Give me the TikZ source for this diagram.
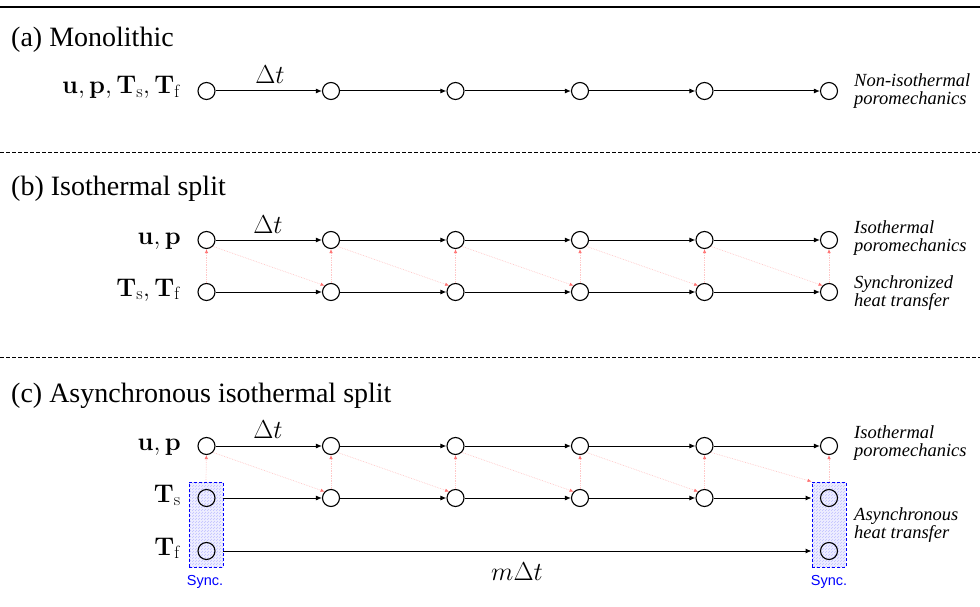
\RequirePackage{fix-cm}
\documentclass[tikz,border=0pt]{standalone}
\usepackage[no-math]{fontspec}
\setmainfont{Liberation Serif}
\newfontfamily\syncfont{Liberation Sans}
\usetikzlibrary{arrows.meta,patterns}

\begin{document}
\begin{tikzpicture}[x=1pt,y=-1pt,
  st/.style={circle,draw,line width=1.1pt,minimum size=17pt,inner sep=0pt},
  flow/.style={-{Latex[length=6pt,width=5pt]},line width=1pt},
  cpl/.style={-{Latex[length=4pt,width=3.5pt,color=red!55]},draw=red!22,densely dotted,line width=0.7pt},
  ttl/.style={anchor=base west,font=\fontsize{28}{32}\selectfont,inner sep=0pt},
  var/.style={anchor=base east,font=\fontsize{25.5}{30}\selectfont,inner sep=0pt},
  note/.style={anchor=west,align=left,font=\fontsize{18.5}{17.5}\selectfont\itshape,inner sep=0pt},
  dt/.style={font=\fontsize{26}{30}\selectfont,inner sep=0pt,anchor=base},
  sep/.style={dash pattern=on 4pt off 2pt,line width=0.6pt},
  syncbox/.style={draw=blue,dash pattern=on 3pt off 2pt,line width=0.9pt,preaction={fill=blue!6},pattern=north east lines,pattern color=blue!25,minimum width=34pt,minimum height=85pt,inner sep=0pt},
  synclbl/.style={text=blue,font=\syncfont\fontsize{14.5}{16}\selectfont,inner sep=0pt}
]
\useasboundingbox (0,0) rectangle (980,607);

% rules
\draw[line width=1.4pt] (0,7) -- (980,7);
\draw[sep] (0,152) -- (980,152);
\draw[sep] (0,357) -- (980,357);

% column positions
\def\cols{0/206.5,1/331,2/455.5,3/580,4/704.5,5/829}

% ---------------- (a) monolithic ----------------
\node[ttl] (ta) at (11,47) {(a) Monolithic};
\node[var] (va) at (181,94) {$\mathbf{u},\mathbf{p},\mathbf{T}_\mathrm{s},\mathbf{T}_\mathrm{f}$};
\foreach \i/\x in \cols { \node[st] (a\i) at (\x,91) {}; }
\foreach \i [evaluate=\i as \j using int(\i+1)] in {0,...,4} { \draw[flow] (a\i) -- (a\j); }
\node[dt] (dta) at (270,84) {$\Delta t$};
\node[note] (na) at (854,91) {Non-isothermal\\poromechanics};

% ---------------- (b) isothermal split ----------------
\node[ttl] (tb) at (11,195) {(b) Isothermal split};
\node[var] (vbu) at (181,244) {$\mathbf{u},\mathbf{p}$};
\node[var] (vbt) at (181,296) {$\mathbf{T}_\mathrm{s},\mathbf{T}_\mathrm{f}$};
\foreach \i/\x in \cols {
  \node[st] (bu\i) at (\x,240) {};
  \node[st] (bt\i) at (\x,292) {};
}
\foreach \i [evaluate=\i as \j using int(\i+1)] in {0,...,4} {
  \draw[flow] (bu\i) -- (bu\j);
  \draw[flow] (bt\i) -- (bt\j);
  \draw[cpl] (bu\i.south east) -- (bt\j.north west);
}
\foreach \i in {0,...,5} { \draw[cpl] (bt\i) -- (bu\i); }
\node[dt] (dtb) at (268,233) {$\Delta t$};
\node[note] (nb1) at (854,238) {Isothermal\\poromechanics};
\node[note] (nb2) at (854,293) {Synchronized\\heat transfer};

% ---------------- (c) asynchronous isothermal split ----------------
\node[ttl] (tc) at (11,402) {(c) Asynchronous isothermal split};
\node[var] (vcu) at (181,450) {$\mathbf{u},\mathbf{p}$};
\node[var] (vcs) at (181,502) {$\mathbf{T}_\mathrm{s}$};
\node[var] (vcf) at (181,555) {$\mathbf{T}_\mathrm{f}$};

\node[syncbox] (lbox) at (206,524.5) {};
\node[syncbox] (rbox) at (829,524.5) {};
\node[synclbl] (lsync) at (205,582) {Sync.};
\node[synclbl] (rsync) at (829,582) {Sync.};

\foreach \i/\x in \cols {
  \node[st] (cu\i) at (\x,446) {};
  \node[st] (cs\i) at (\x,498) {};
}
\node[st] (cf0) at (206.5,551) {};
\node[st] (cf5) at (829,551) {};

% heat transfer steps
\draw[flow] (cs0 -| lbox.east) -- (cs1);
\foreach \i [evaluate=\i as \j using int(\i+1)] in {1,2,3} { \draw[flow] (cs\i) -- (cs\j); }
\draw[flow] (cs4) -- (cs5 -| rbox.west);
\draw[flow] (cf0 -| lbox.east) -- (cf5 -| rbox.west);
% poromechanics steps
\foreach \i [evaluate=\i as \j using int(\i+1)] in {0,...,4} { \draw[flow] (cu\i) -- (cu\j); }

% coupling
\draw[cpl] (lbox.north) -- (cu0);
\foreach \i in {1,...,4} { \draw[cpl] (cs\i) -- (cu\i); }
\draw[cpl] (rbox.north) -- (cu5);
\foreach \i [evaluate=\i as \j using int(\i+1)] in {0,...,3} { \draw[cpl] (cu\i.south east) -- (cs\j.north west); }
\draw[cpl] (cu4.south east) -- (rbox.north west);

\node[dt] (dtc) at (268,438) {$\Delta t$};
\node[dt] (mdt) at (517,580) {$m\Delta t$};
\node[note] (nc1) at (854,443) {Isothermal\\poromechanics};
\node[note] (nc2) at (854,525) {Asynchronous\\heat transfer};
\end{tikzpicture}
\end{document}
